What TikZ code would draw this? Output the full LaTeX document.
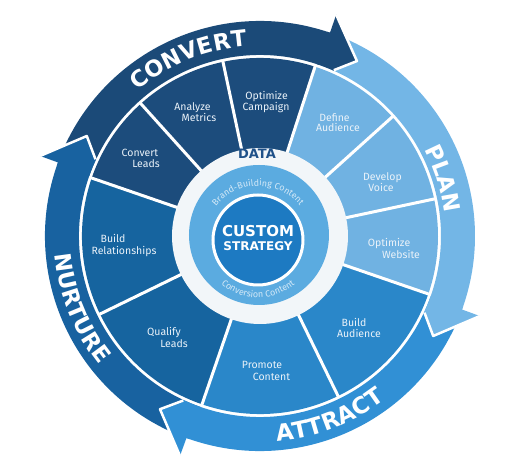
\documentclass[tikz,border=0pt]{standalone}
\usepackage{fontspec}
\usetikzlibrary{decorations.text}
\newfontfamily\bandfont{DejaVu Sans}
\newfontfamily\segfont{Fira Sans}
\definecolor{navy}{HTML}{1C4C7C}
\definecolor{nurt}{HTML}{16649F}
\definecolor{attr}{HTML}{2A87C9}
\definecolor{plan}{HTML}{70B2E2}
\definecolor{bnavy}{HTML}{1B4A78}
\definecolor{bnurt}{HTML}{1862A0}
\definecolor{battr}{HTML}{3190D5}
\definecolor{bplan}{HTML}{73B6E6}
\definecolor{lightring}{HTML}{5BABE0}
\definecolor{core}{HTML}{1D7AC2}
\definecolor{ringwhite}{HTML}{F2F6F9}
\definecolor{datatext}{HTML}{1F5189}
\definecolor{segtext}{HTML}{EAF2F9}
\definecolor{smalltext}{HTML}{D2E8F7}
\tikzset{
  seglabel/.style={text=segtext, font=\segfont\fontsize{10.5}{11}\selectfont, inner sep=0pt, text height=7pt, text depth=2pt},
  divider/.style={white, line width=3pt},
  headline/.style={white, line width=2.5pt, line join=round},
}
\begin{document}
\begin{tikzpicture}[x=1pt,y=1pt]
\useasboundingbox (-260,-237) rectangle (268,236);
% band bodies
\foreach \s/\e/\c in {160/71/bnavy, 71/-20/bplan, -20/-110/battr, 250/160/bnurt}{
  \fill[\c] (\e:181) -- (\e:215) arc[start angle=\e, end angle=\s, radius=215] -- (\s:181) arc[start angle=\s, end angle=\e, radius=181] -- cycle;
}
% segments
\foreach \s/\e/\c in {72/161/navy, 161/251/nurt, 251/341/attr, -19/72/plan}{
  \fill[\c] (\s:87) -- (\s:178) arc[start angle=\s, end angle=\e, radius=178] -- (\e:87) arc[start angle=\e, end angle=\s, radius=87] -- cycle;
}
\foreach \a in {-19,12,42,72,102,132,161,206,251,296}{
  \draw[divider] (\a:84) -- (\a:179);
}
% inner rings
\fill[ringwhite] (0,0) circle[radius=88];
\fill[lightring] (-1,1) circle[radius=70];
\filldraw[fill=core, draw=white, line width=3pt] (-2,-4) circle[radius=45];
% arrow heads
\foreach \b/\c in {71/bnavy, -20/bplan, -110/battr, 160/bnurt}{
  \pgfmathsetmacro{\bb}{\b+0.8}
  \pgfmathsetmacro{\bt}{\b-10}
  \pgfmathsetmacro{\bi}{\b-5}
  \fill[\c] (\bb:181) -- (\bb:215) -- (\b:215) -- (\b:234) -- (\bt:200) -- (\bi:181) arc[start angle=\bi, end angle=\bb, radius=181] -- cycle;
  \draw[headline] (\b:234) -- (\bt:200) -- (\bi:181.5);
}
% band titles
\path[decorate, decoration={text along path, text align=center, text color=white,
  text={|\bandfont\bfseries\fontsize{22.5}{22}\selectfont|CONVERT}}]
  (152:190) arc[start angle=152, end angle=72, radius=190];
\path[decorate, decoration={text along path, text align=center, text color=white,
  text={|\bandfont\bfseries\fontsize{22.5}{22}\selectfont|PLAN}}]
  (57.5:186) arc[start angle=57.5, end angle=-22.5, radius=186];
\path[decorate, decoration={text along path, text align=center, text color=white,
  text={|\bandfont\bfseries\fontsize{23}{22}\selectfont|ATTRACT}}]
  (-109:206) arc[start angle=-109, end angle=-29, radius=206];
\path[decorate, decoration={text along path, text align=center, text color=white,
  text={|\bandfont\bfseries\fontsize{22.5}{22}\selectfont|NURTURE}}]
  (162:206) arc[start angle=162, end angle=242, radius=206];
% inner curved texts
\begin{scope}[shift={(-2,-4)}]
\path[decorate, decoration={text along path, text align=center, text color=smalltext,
  text={|\segfont\fontsize{9}{9}\selectfont|Brand-Building Content}}]
  (175:54) arc[start angle=175, end angle=5, radius=54];
\path[decorate, decoration={text along path, text align=center, text color=smalltext,
  text={|\segfont\fontsize{9}{9}\selectfont|Conversion Content}}]
  (-175:57.5) arc[start angle=-175, end angle=-5, radius=57.5];
\end{scope}
\node[text=datatext, font=\bandfont\bfseries\fontsize{13}{13}\selectfont, inner sep=0pt] (data) at (-3,82) {DATA};
\node[text=white, font=\bandfont\bfseries\fontsize{15}{15}\selectfont, inner sep=0pt] (custom) at (-2,5) {CUSTOM};
\node[text=white, font=\bandfont\bfseries\fontsize{12}{12}\selectfont, inner sep=0pt] (strategy) at (-2,-10) {STRATEGY};
% segment labels
\node[seglabel] (oc1) at (6.5,139) {Optimize};
\node[seglabel] (oc2) at (6,128) {Campaign};
\node[seglabel] (am1) at (-67.5,128) {Analyze};
\node[seglabel] (am2) at (-61,117) {Metrics};
\node[seglabel] (cl1) at (-120,81.5) {Convert};
\node[seglabel] (cl2) at (-114,70.5) {Leads};
\node[seglabel] (da1) at (74.5,117) {Define};
\node[seglabel] (da2) at (78,106.5) {Audience};
\node[seglabel] (dv1) at (122.5,58) {Develop};
\node[seglabel] (dv2) at (121,47) {Voice};
\node[seglabel] (ow1) at (129,-8.5) {Optimize};
\node[seglabel] (ow2) at (141,-20) {Website};
\node[seglabel] (ba1) at (94,-88) {Build};
\node[seglabel] (ba2) at (99,-99) {Audience};
\node[seglabel] (pc1) at (2,-130) {Promote};
\node[seglabel] (pc2) at (11.5,-142) {Content};
\node[seglabel] (ql1) at (-96,-97) {Qualify};
\node[seglabel] (ql2) at (-86,-109) {Leads};
\node[seglabel] (br1) at (-147,-4) {Build};
\node[seglabel] (br2) at (-136,-16) {Relationships};
\end{tikzpicture}
\end{document}
